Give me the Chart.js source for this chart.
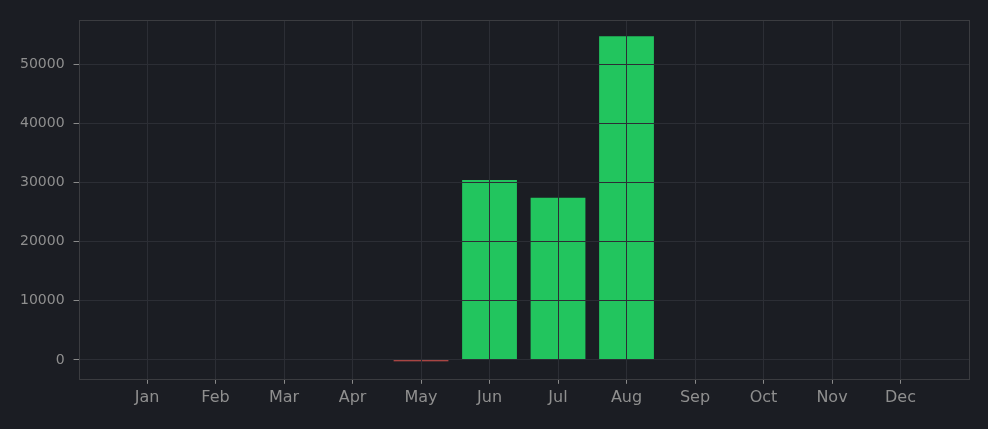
<!DOCTYPE html>
<html>
<head>
<meta charset="utf-8">
<script src="https://cdn.jsdelivr.net/npm/chart.js@4/dist/chart.umd.min.js"></script>
<style>
html,body{margin:0;padding:0;background:#1b1d23;}
#wrap{width:988px;height:429px;position:relative;}
</style>
</head>
<body>
<div id="wrap"><canvas id="c"></canvas></div>
<script>
const months = ['Jan','Feb','Mar','Apr','May','Jun','Jul','Aug','Sep','Oct','Nov','Dec'];
const values = [0,0,0,0,-250,30400,27400,54700,0,0,0,0];
const yTicks = [0,10000,20000,30000,40000,50000];

const labels = [''].concat(months, ['']);
const data = [null].concat(values, [null]);
const colors = data.map(v => (v !== null && v < 0) ? '#d9534f' : '#22c55e');

const frame = {
  id: 'frame',
  afterDraw(chart) {
    const {ctx, chartArea: a} = chart;
    ctx.save();
    ctx.strokeStyle = '#3b3c40';
    ctx.lineWidth = 1;
    ctx.strokeRect(Math.round(a.left) + 0.5, Math.round(a.top) + 0.5, Math.round(a.right - a.left), Math.round(a.bottom - a.top));
    ctx.restore();
  }
};

new Chart(document.getElementById('c'), {
  type: 'bar',
  data: {
    labels: labels,
    datasets: [{
      data: data,
      backgroundColor: colors,
      borderWidth: 0,
      categoryPercentage: 1.0,
      barPercentage: 0.8
    }]
  },
  options: {
    responsive: true,
    maintainAspectRatio: false,
    animation: false,
    layout: {padding: {left: 11, right: 19, top: 20, bottom: 18}},
    plugins: {legend: {display: false}, tooltip: {enabled: false}},
    scales: {
      x: {
        type: 'category',
        offset: false,
        border: {display: false},
        grid: {
          z: 1,
          offset: false,
          color: c => (c.tick && c.tick.label) ? '#2c2e35' : 'rgba(0,0,0,0)',
          tickLength: 5,
          tickColor: c => (c.tick && c.tick.label) ? '#8a8a8a' : 'rgba(0,0,0,0)'
        },
        ticks: {
          color: '#8f8f8f',
          font: {family: 'DejaVu Sans', size: 16},
          padding: 4,
          maxRotation: 0,
          autoSkip: false
        }
      },
      y: {
        min: -3200,
        max: 57450,
        border: {display: false},
        afterBuildTicks: axis => { axis.ticks = yTicks.map(v => ({value: v})); },
        grid: {
          z: 1,
          color: '#2c2e35',
          tickLength: 5,
          tickColor: '#8a8a8a'
        },
        ticks: {
          color: '#8f8f8f',
          font: {family: 'DejaVu Sans', size: 14},
          padding: 9,
          callback: v => String(v)
        }
      }
    }
  },
  plugins: [frame]
});
</script>
</body>
</html>
